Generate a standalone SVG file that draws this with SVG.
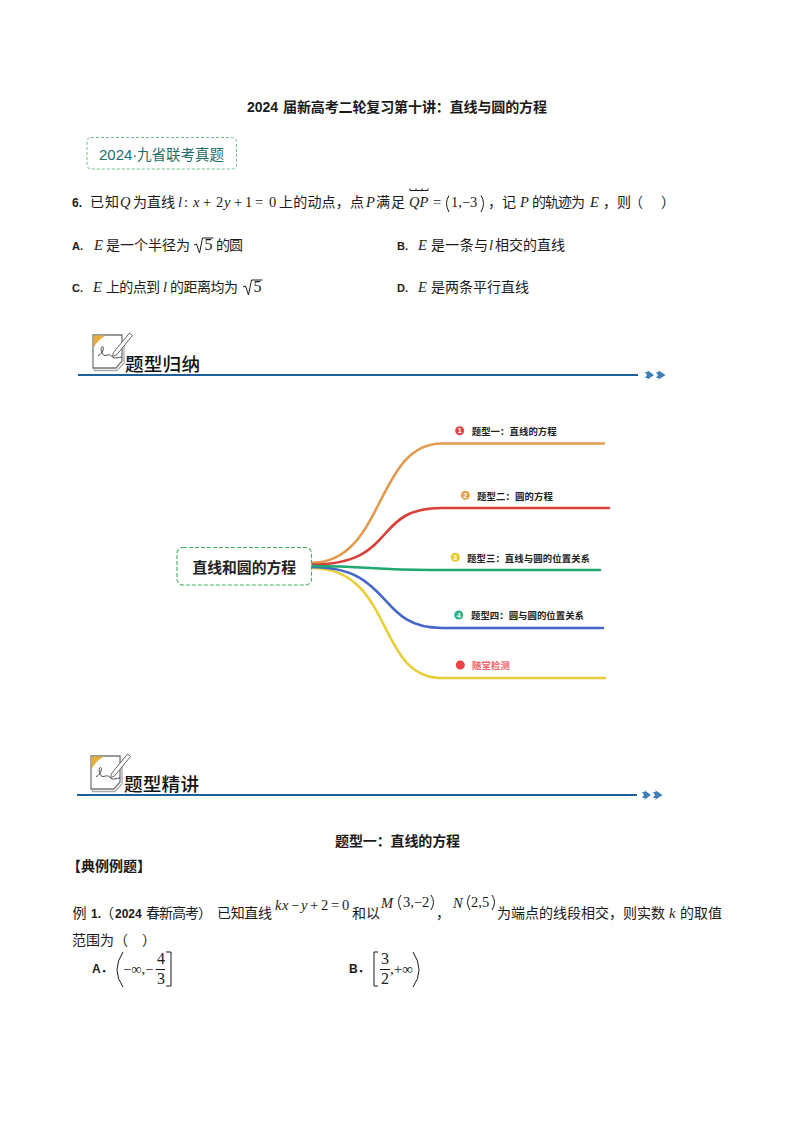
<svg xmlns="http://www.w3.org/2000/svg" xmlns:xlink="http://www.w3.org/1999/xlink" width="794" height="1123" viewBox="0 0 794 1123">
<style>
text{font-family:"Noto Sans CJK SC","Liberation Sans",sans-serif;fill:#1a1a1a;font-size:14px}
.b{font-weight:700}
.en{font-family:"Liberation Sans","Noto Sans CJK SC",sans-serif;font-weight:700;font-size:14px}
.m{font-family:"Liberation Serif","Noto Sans CJK SC",serif;font-size:14.500px}
.i{font-family:"Liberation Serif","Noto Sans CJK SC",serif;font-style:italic;font-size:14.500px}
.f{font-family:"Liberation Serif",serif;font-size:16px}
.l{font-size:9.4px;font-weight:700;fill:#222}
.n{font-family:"Liberation Sans",sans-serif;font-size:7px;font-weight:700;fill:#fff;text-anchor:middle}
.h{font-size:18.6px;font-weight:500;fill:#111}
.ink{fill:none;stroke:#1a1a1a;stroke-width:1}
.c{fill:none;stroke-width:2.6;stroke-linecap:round}
.rule{stroke:#1f5f99;stroke-width:2.2}
</style>
<defs>
<g id="arrows">
<path d="M0-3 3-3 2-5 9 0 2 5 3 3 0 3 2 0Z" fill="#3f7fb5"/>
<path d="M11-3 14-3 13-5 20.500 0 13 5 14 3 11 3 13 0Z" fill="#3f7fb5"/>
</g>
<g id="note">
<path d="M1 3H30V29L24 36H1Z" fill="#fff" stroke="#777" stroke-width="1.300"/>
<path d="M2.500 36.500V38.500H25L32 31V12" fill="none" stroke="#aaa" stroke-width="1.300"/>
<path d="M1.500 3.500H14C9 6 4 11 1.500 16Z" fill="#e8ae3c"/>
<path d="M21.500 20.500 37.500 1 40.500 3.500 24.500 23 20.500 24.500Z" fill="#fff" stroke="#555" stroke-width=".9"/>
<path d="M6 23.500C10 23 13 15 10.500 14.500 8 14.500 9 23.500 13 23.500 16 23.500 17 21 21 25.500 23 27 27 25 30 25" fill="none" stroke="#222" stroke-width=".8"/>
</g>
</defs>
<rect width="794" height="1123" fill="#fff"/>

<g id="title">
<text class="en" x="247" y="112">2024</text>
<text class="b" x="283" y="112" textLength="264">届新高考二轮复习第十讲：直线与圆的方程</text>
</g>

<g id="badge">
<rect x="87" y="137.500" width="149.500" height="31.500" rx="4" fill="#fff" stroke="#6cbf8a" stroke-width="1" stroke-dasharray="3 2"/>
<text x="99" y="160" style="font-family:'Liberation Sans',sans-serif;font-size:15px;fill:#1f6e6b">2024·</text>
<text x="137" y="160" style="font-size:14.500px;fill:#1f6e6b" textLength="87">九省联考真题</text>
</g>

<g id="question-6">
<text class="en" x="72" y="207" style="font-size:12px">6.</text>
<text x="90" y="207" textLength="29">已知</text>
<text class="i" x="120" y="207">Q</text>
<text x="133" y="207" textLength="42">为直线</text>
<text class="i" x="178" y="207">l</text>
<text class="m" x="184" y="207">:</text>
<text class="i" x="193" y="207">x</text>
<text class="m" x="203" y="207">+</text>
<text class="m" x="216" y="207">2</text>
<text class="i" x="224" y="207">y</text>
<text class="m" x="234" y="207">+</text>
<text class="m" x="245" y="207">1</text>
<text class="m" x="255" y="207">=</text>
<text class="m" x="269" y="207">0</text>
<text x="279" y="207" textLength="85">上的动点，点</text>
<text class="i" x="366" y="207">P</text>
<text x="376" y="207" textLength="29">满足</text>
<path class="ink" d="M410 188.500v2h18v-2M416 188.500v2M422 188.500v2"/>
<text class="i" x="409" y="207">QP</text>
<text class="m" x="433" y="207">=</text>
<path class="ink" d="M449 195.500Q444 203 449 212M481 195.500Q486 203 481 212"/>
<text class="m" x="451" y="207">1,−3</text>
<text x="488" y="207">，</text>
<text x="502" y="207">记</text>
<text class="i" x="520" y="207">P</text>
<text x="532" y="207" textLength="53">的轨迹为</text>
<text class="i" x="590" y="207">E</text>
<text x="603" y="207">，</text>
<text x="617" y="207">则</text>
<text x="629" y="207">（</text>
<text x="661" y="207">）</text>
</g>

<g id="option-a">
<text class="en" x="72" y="250" style="font-size:11px">A.</text>
<text class="i" x="94" y="250">E</text>
<text x="106" y="250" textLength="84">是一个半径为</text>
<path class="ink" d="M194 245l2.500-1 3 9 3-15h11"/>
<text class="f" x="204.500" y="250">5</text>
<text x="216" y="250" textLength="27">的圆</text>
</g>
<g id="option-b">
<text class="en" x="397" y="250" style="font-size:11px">B.</text>
<text class="i" x="418" y="250">E</text>
<text x="431" y="250" textLength="57">是一条与</text>
<text class="i" x="489" y="250">l</text>
<text x="495" y="250" textLength="70">相交的直线</text>
</g>
<g id="option-c">
<text class="en" x="72" y="292" style="font-size:11px">C.</text>
<text class="i" x="93" y="292">E</text>
<text x="106" y="292" textLength="54">上的点到</text>
<text class="i" x="163" y="292">l</text>
<text x="170" y="292" textLength="68">的距离均为</text>
<path class="ink" d="M243 287l2.500-1 3 9 3-15h11"/>
<text class="f" x="253.500" y="292">5</text>
</g>
<g id="option-d">
<text class="en" x="397" y="292" style="font-size:11px">D.</text>
<text class="i" x="418" y="292">E</text>
<text x="431" y="292" textLength="98">是两条平行直线</text>
</g>

<g id="header-1">
<use href="#note" x="92" y="332"/>
<text class="h" x="125" y="371" textLength="75">题型归纳</text>
<line class="rule" x1="78" y1="375" x2="638" y2="375"/>
<use href="#arrows" x="645" y="375"/>
</g>

<g id="connectors">
<path class="c" stroke="#e39a50" d="M311 563C385 563 375 443.500 442 443.500H604"/>
<path class="c" stroke="#d8403a" d="M311 564.500C400 564.500 370 508 442 508H609"/>
<path class="c" stroke="#e8cf3a" d="M311 568C395 568 375 678 442 678H605"/>
<path class="c" stroke="#4466cc" d="M311 567C395 567 375 628 442 628H603"/>
<path class="c" stroke="#1fa870" d="M311 566C370 566 370 570 430 570H600"/>
</g>

<g id="root">
<rect x="177" y="547.500" width="134.500" height="37.500" rx="6" fill="#fff" stroke="#3fb35c" stroke-width="1.100" stroke-dasharray="4 2"/>
<text class="b" x="192.500" y="572.500" style="font-size:14.800px;fill:#222" textLength="103.500">直线和圆的方程</text>
</g>
<g id="branch-1">
<circle cx="459.700" cy="430.700" r="4.500" fill="#dd4648"/>
<text class="n" x="459.700" y="433.200">1</text>
<text class="l" x="471.700" y="435" textLength="85">题型一：直线的方程</text>
</g>
<g id="branch-2">
<circle cx="465.300" cy="495.300" r="4.500" fill="#e8a04c"/>
<text class="n" x="465.300" y="497.800">2</text>
<text class="l" x="477" y="499.500" textLength="76">题型二：圆的方程</text>
</g>
<g id="branch-3">
<circle cx="455.300" cy="557.300" r="4.500" fill="#e8c82a"/>
<text class="n" x="455.300" y="559.800">3</text>
<text class="l" x="467" y="561.500" textLength="123">题型三：直线与圆的位置关系</text>
</g>
<g id="branch-4">
<circle cx="458.700" cy="615" r="4.500" fill="#2fb183"/>
<text class="n" x="458.700" y="617.500">4</text>
<text class="l" x="471" y="619" textLength="113">题型四：圆与圆的位置关系</text>
</g>
<g id="branch-5">
<circle cx="460.300" cy="665" r="4.500" fill="#ee4245"/>
<text class="l" x="472" y="669" style="fill:#ee6468" textLength="38">随堂检测</text>
</g>

<g id="header-2">
<use href="#note" x="90" y="753"/>
<text class="h" x="124" y="791" textLength="75">题型精讲</text>
<line class="rule" x1="77" y1="795" x2="637" y2="795"/>
<use href="#arrows" x="642" y="795"/>
</g>

<g id="section">
<text class="b" x="335" y="846" textLength="125">题型一：直线的方程</text>
<text class="b" x="67" y="871" textLength="84">【典例例题】</text>
</g>

<g id="example-1">
<text x="72.500" y="918">例</text>
<text class="en" x="91" y="918" style="font-size:12px">1.</text>
<text x="100" y="918">（</text>
<text class="en" x="115" y="918" style="font-size:12px">2024</text>
<text x="146" y="918" textLength="66">春新高考）</text>
<text x="217" y="918" textLength="55">已知直线</text>
<text class="i" x="275" y="910">k</text>
<text class="i" x="282" y="910">x</text>
<text class="m" x="291" y="910">−</text>
<text class="i" x="301" y="910">y</text>
<text class="m" x="310" y="910">+</text>
<text class="m" x="321" y="910">2</text>
<text class="m" x="331" y="910">=</text>
<text class="m" x="342" y="910">0</text>
<text x="352" y="918" textLength="28">和以</text>
<text class="i" x="381" y="908">M</text>
<path class="ink" d="M401 895Q396 902 401 910M431 895Q436 902 431 910"/>
<text class="m" x="403" y="907">3,−2</text>
<text x="436" y="918">，</text>
<text class="i" x="453" y="908">N</text>
<path class="ink" d="M470 895Q465 902 470 910M492 895Q497 902 492 910"/>
<text class="m" x="471" y="907">2,5</text>
<text x="497" y="918" textLength="168">为端点的线段相交，则实数</text>
<text class="i" x="669" y="918">k</text>
<text x="680" y="918" textLength="42">的取值</text>
<text x="72" y="945" textLength="42">范围为</text>
<text x="114" y="945">（</text>
<text x="142" y="945">）</text>
<text class="en" x="92" y="973" style="font-size:12px">A．</text>
<path class="ink" d="M123 952Q111 970 123 987"/>
<text class="f" x="123" y="974" style="font-size:14.500px">−∞,−</text>
<text class="f" x="157" y="964">4</text>
<line x1="155.500" y1="969.500" x2="165" y2="969.500" stroke="#1a1a1a"/>
<text class="f" x="157" y="984">3</text>
<path class="ink" d="M166 952h5v34h-5"/>
<text class="en" x="349" y="973" style="font-size:12px">B．</text>
<path class="ink" d="M378 952h-4v34h4"/>
<text class="f" x="381" y="964">3</text>
<line x1="380" y1="969.500" x2="390" y2="969.500" stroke="#1a1a1a"/>
<text class="f" x="381" y="984">2</text>
<text class="f" x="390" y="974" style="font-size:15px">,+∞</text>
<path class="ink" d="M413 952Q425 970 413 987"/>
</g>
</svg>
